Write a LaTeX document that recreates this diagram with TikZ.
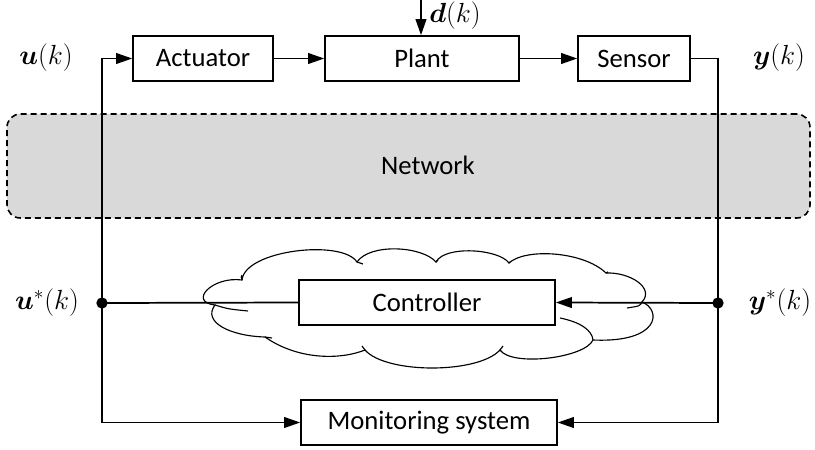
\documentclass[tikz,border=0pt]{standalone}
\usepackage{fontspec}
\setmainfont{Carlito}
\usepackage{bm}
\usetikzlibrary{arrows.meta}
\begin{document}
\begin{tikzpicture}[x=0.75pt,y=-0.75pt,
  blk/.style={draw, line width=1.2pt, fill=white, minimum height=33.75pt, inner sep=0pt, font=\fontsize{20}{24}\selectfont},
  conn/.style={line width=1.3pt, -{Triangle[length=12pt,width=8pt]}},
  wire/.style={line width=1.3pt},
  lab/.style={font=\fontsize{20.74}{25}\selectfont, inner sep=0pt},
  dot/.style={circle, fill=black, inner sep=0pt, minimum size=8.5pt},
  cloudline/.style={line width=0.85pt}]
\useasboundingbox (0,0) rectangle (815,450);

% network band
\node[draw, dash pattern=on 4.5pt off 3pt, line width=1.2pt, rounded corners=10pt, fill=black!15,
      minimum width=602.25pt, minimum height=78pt, inner sep=0pt] (net) at (408.5,166) {};
\node[font=\fontsize{20}{24}\selectfont, inner sep=0pt] (nettext) at (428,165) {Network};

% cloud
\draw[cloudline, fill=white] (242,280) .. controls (245,250) and (342,239) .. (357,262)
 .. controls (370,243) and (422,246) .. (436,262)
 .. controls (445,245) and (499,249) .. (509,263)
 .. controls (525,248) and (583,251) .. (606,273)
 .. controls (630,272) and (655,288) .. (642,302)
 .. controls (662,310) and (660,343) .. (593,340)
 .. controls (585,358) and (512,367) .. (500,350)
 .. controls (478,374) and (386,374) .. (365,350)
 .. controls (340,360) and (298,360) .. (265,337)
 .. controls (230,336) and (202,322) .. (215,305)
 .. controls (188,302) and (212,276) .. (242,280) -- cycle;
\draw[cloudline] (357,262) .. controls (360,263) .. (363,264);
\draw[cloudline] (436,262) .. controls (437,261) .. (438,260);
\draw[cloudline] (509,263) .. controls (509,262) .. (510,262);
\draw[cloudline] (606,273) .. controls (607,272) .. (608,272);
\draw[cloudline] (242,280) .. controls (241,277) .. (242,275);
\draw[cloudline] (215,305) .. controls (228,309) .. (248,311);
\draw[cloudline] (265,337) .. controls (268,338) .. (272,338);
\draw[cloudline] (642,302) .. controls (640,306) .. (627,308);
\draw[cloudline] (560,318) .. controls (580,322) and (592,330) .. (593,340);
\draw[cloudline] (365,350) .. controls (364,348) .. (362,346);
\draw[cloudline] (500,350) .. controls (501,348) .. (503,346);

% blocks
\node[blk, minimum width=105pt] (act) at (203,58.5) {Actuator};
\node[blk, minimum width=145.5pt] (plant) at (422,58.5) {Plant};
\node[blk, minimum width=84pt] (sen) at (634,58.5) {Sensor};
\node[blk, minimum width=192pt] (ctrl) at (427,302.5) {Controller};
\node[blk, minimum width=192pt] (mon) at (429,422.5) {Monitoring system};

% junction dots
\node[dot] (dl) at (102,303) {};
\node[dot] (dr) at (718,303) {};
\coordinate (dtop) at (421,0);

% labels
\node[lab] (uk) at (46,58) {$\bm{u}(k)$};
\node[lab] (yk) at (779,58) {$\bm{y}(k)$};
\node[lab] (usk) at (47,303) {$\bm{u}^{*}(k)$};
\node[lab] (ysk) at (780,303) {$\bm{y}^{*}(k)$};
\node[lab, anchor=west] (dk) at (429,15.5) {$\bm{d}(k)$};

% connectors
\draw[conn] (dl.center) |- (act.west);
\draw[conn] (act.east) -- (plant.west);
\draw[conn] (plant.east) -- (sen.west);
\draw[wire] (sen.east) -| (dr.center);
\draw[conn] (dr.center) -- (ctrl.east);
\draw[conn] (dr.center) |- (mon.east);
\draw[wire] (ctrl.west) -- (dl.center);
\draw[conn] (dl.center) |- (mon.west);
\draw[conn] (dtop) -- (dtop |- plant.north);
\end{tikzpicture}
\end{document}
